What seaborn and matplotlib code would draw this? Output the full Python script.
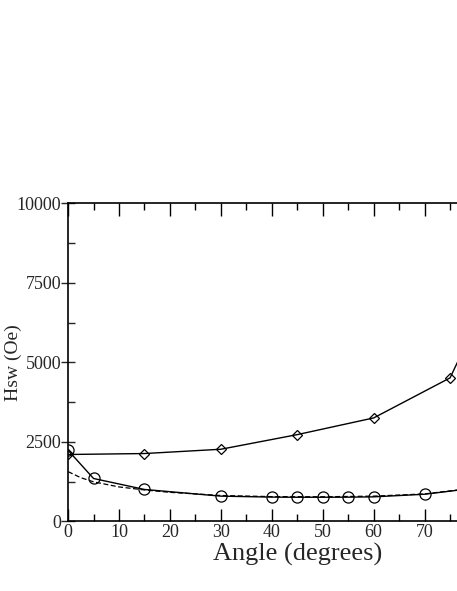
import matplotlib
matplotlib.use("Agg")
import matplotlib.pyplot as plt
import seaborn as sns
import pandas as pd
from matplotlib.ticker import MultipleLocator

angle_diamond = [0, 15, 30, 45, 60, 75, 80]
hsw_diamond = [2100, 2130, 2265, 2725, 3250, 4510, 6200]

angle_circle = [0, 5, 15, 30, 40, 45, 50, 55, 60, 70, 80]
hsw_circle = [2230, 1345, 1000, 790, 760, 755, 755, 758, 768, 850, 1045]

angle_dashed = [0, 2.5, 5, 10, 15, 20, 30, 40, 50, 60, 70, 80]
hsw_dashed = [1560, 1370, 1240, 1080, 985, 910, 810, 775, 770, 790, 860, 1050]

x_ticks = [0, 10, 20, 30, 40, 50, 60, 70, 80, 90]
x_ticklabels = ["0", "10", "20", "30", "40", "50", "60", "70", "", ""]

sns.set_style("ticks")
plt.rcParams['font.family'] = ['Liberation Serif', 'DejaVu Serif']

fig = plt.figure(figsize=(4.57, 5.91), dpi=100)
ax = fig.add_axes([0.149, 0.118, 1.003, 0.538])

df_d = pd.DataFrame({"x": angle_diamond, "y": hsw_diamond})
df_c = pd.DataFrame({"x": angle_circle, "y": hsw_circle})
df_s = pd.DataFrame({"x": angle_dashed, "y": hsw_dashed})

sns.lineplot(data=df_s, x="x", y="y", ax=ax, color="black", lw=0.9,
             linestyle=(0, (4, 2)), sort=False)
sns.lineplot(data=df_c, x="x", y="y", ax=ax, color="black", lw=1.0,
             marker="o", markersize=8, markerfacecolor="none",
             markeredgecolor="black", markeredgewidth=0.9, sort=False)
sns.lineplot(data=df_d, x="x", y="y", ax=ax, color="black", lw=1.0,
             marker="D", markersize=5.5, markerfacecolor="none",
             markeredgecolor="black", markeredgewidth=0.9, sort=False)

ax.set_xlim(0, 90)
ax.set_ylim(0, 10000)
ax.set_xticks(x_ticks)
ax.set_xticklabels(x_ticklabels)
ax.xaxis.set_minor_locator(MultipleLocator(5))
ax.yaxis.set_major_locator(MultipleLocator(2500))
ax.yaxis.set_minor_locator(MultipleLocator(1250))
ax.tick_params(axis="x", which="both", direction="in", top=True, bottom=True,
               labelsize=13, pad=2, color="black")
ax.tick_params(axis="x", which="major", length=9, width=1)
ax.tick_params(axis="x", which="minor", length=5, width=1)
ax.tick_params(axis="y", which="major", direction="inout", length=10, width=1,
               labelsize=13, pad=0)
ax.tick_params(axis="y", which="minor", direction="in", length=5, width=1)
for s in ax.spines.values():
    s.set_linewidth(1.2)
    s.set_color("black")

ax.set_xlabel("Angle (degrees)", fontsize=19, labelpad=1)
ax.set_ylabel("Hsw (Oe)", fontsize=14)
ax.yaxis.set_label_coords(-0.1, 0.5)

fig.savefig("out.png", dpi=100)
